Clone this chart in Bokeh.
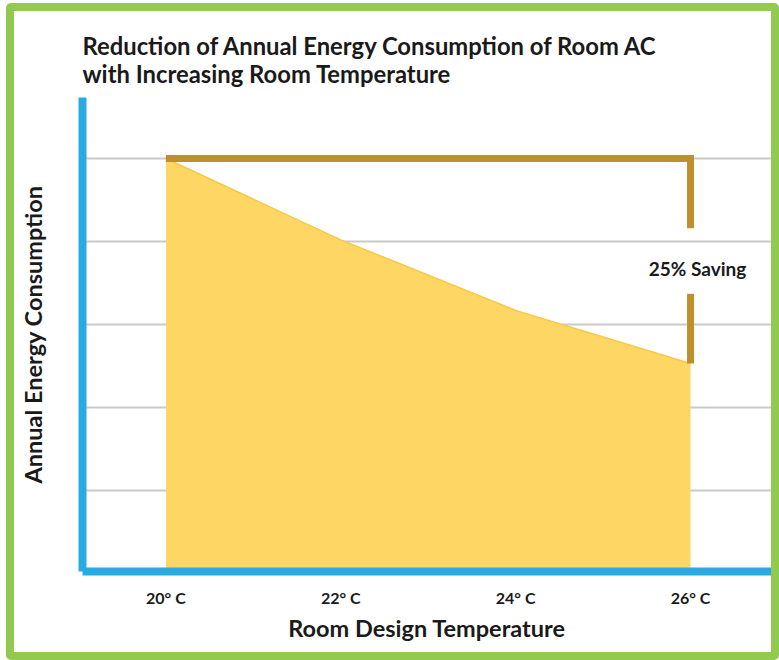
from bokeh.plotting import figure
from bokeh.models import FixedTicker, Label, Range1d
from bokeh.embed import file_html
from bokeh.resources import INLINE

# ---- data ----
temps = [20, 22, 24, 26]
temp_labels = ["20° C", "22° C", "24° C", "26° C"]
energy = [5.0, 4.02, 3.17, 2.53]
grid_levels = [1, 2, 3, 4, 5]
saving_text = "25% Saving"
bracket_gap_top = 4.16
bracket_gap_bottom = 3.37
saving_label_y = 3.67

title_text = "Reduction of Annual Energy Consumption of Room AC\nwith Increasing Room Temperature"
x_title = "Room Design Temperature"
y_title = "Annual Energy Consumption"

FONT = "Lato"
BLUE = "#29abe2"
BROWN = "#bf8f2e"
YELLOW = "#fdd663"
GREEN = "#92c94f"
TXT = "#1a1a1a"

# The green frame is a CSS border (border-box): the outer 8px of the canvas
# on the right/bottom are hidden behind it, hence the extra right/bottom margins.
p = figure(width=773, height=657, output_backend="svg", toolbar_location=None,
           x_range=Range1d(19.046, 26.926), y_range=Range1d(0.024, 5.735),
           min_border_left=68, min_border_right=16, min_border_top=86, min_border_bottom=97)

p.styles = {"border": f"8px solid {GREEN}", "border-radius": "5px",
            "margin-left": "6px", "margin-top": "3px"}
p.outline_line_color = None
p.background_fill_color = "white"
p.border_fill_color = "white"

# title
p.title.text = title_text
p.title.text_font = FONT
p.title.text_font_style = "bold"
p.title.text_font_size = "23.8px"
p.title.text_color = TXT
p.title.align = "left"
p.title.offset = 0
p.title.standoff = 18
p.title.text_line_height = 1.02

# axes
for ax in (p.xaxis[0], p.yaxis[0]):
    ax.axis_line_color = BLUE
    ax.axis_line_width = 8
    ax.major_tick_line_color = None
    ax.minor_tick_line_color = None
    ax.axis_label_text_font = FONT
    ax.axis_label_text_font_style = "bold"
    ax.axis_label_text_color = TXT
    ax.axis_label_text_font_size = "23.5px"
    ax.major_label_text_font = FONT
    ax.major_label_text_font_style = "bold"
    ax.major_label_text_color = TXT

p.xaxis.ticker = FixedTicker(ticks=temps)
p.xaxis.major_label_overrides = {t: lab for t, lab in zip(temps, temp_labels)}
p.xaxis.major_label_text_font_size = "16px"
p.xaxis.major_label_standoff = 10
p.xaxis.axis_label = x_title
p.xaxis.axis_label_standoff = 4

# y axis: no tick labels in the reference, only gridlines
p.yaxis.ticker = FixedTicker(ticks=[])
p.yaxis.major_label_standoff = 0
p.yaxis.axis_label = y_title
p.yaxis.axis_label_standoff = 36

p.xgrid.grid_line_color = None
p.ygrid.ticker = FixedTicker(ticks=grid_levels)
p.ygrid.grid_line_color = "#c9c9c9"
p.ygrid.grid_line_width = 2

# area
p.varea(x=temps, y1=0, y2=energy, fill_color=YELLOW)
p.line(x=temps, y=energy, line_color="#f7c948", line_width=1.5)

# saving bracket
p.line(x=[temps[0], temps[-1], temps[-1]], y=[energy[0], energy[0], bracket_gap_top],
       line_color=BROWN, line_width=7, line_join="miter", line_cap="butt")
p.line(x=[temps[-1], temps[-1]], y=[bracket_gap_bottom, energy[-1]],
       line_color=BROWN, line_width=7, line_cap="butt")

p.add_layout(Label(x=temps[-1] + 0.08, y=saving_label_y, text=saving_text,
                   text_align="center", text_baseline="middle",
                   text_font=FONT, text_font_style="bold", text_font_size="19px",
                   text_color=TXT))

open("out.html", "w").write(file_html(p, INLINE))
